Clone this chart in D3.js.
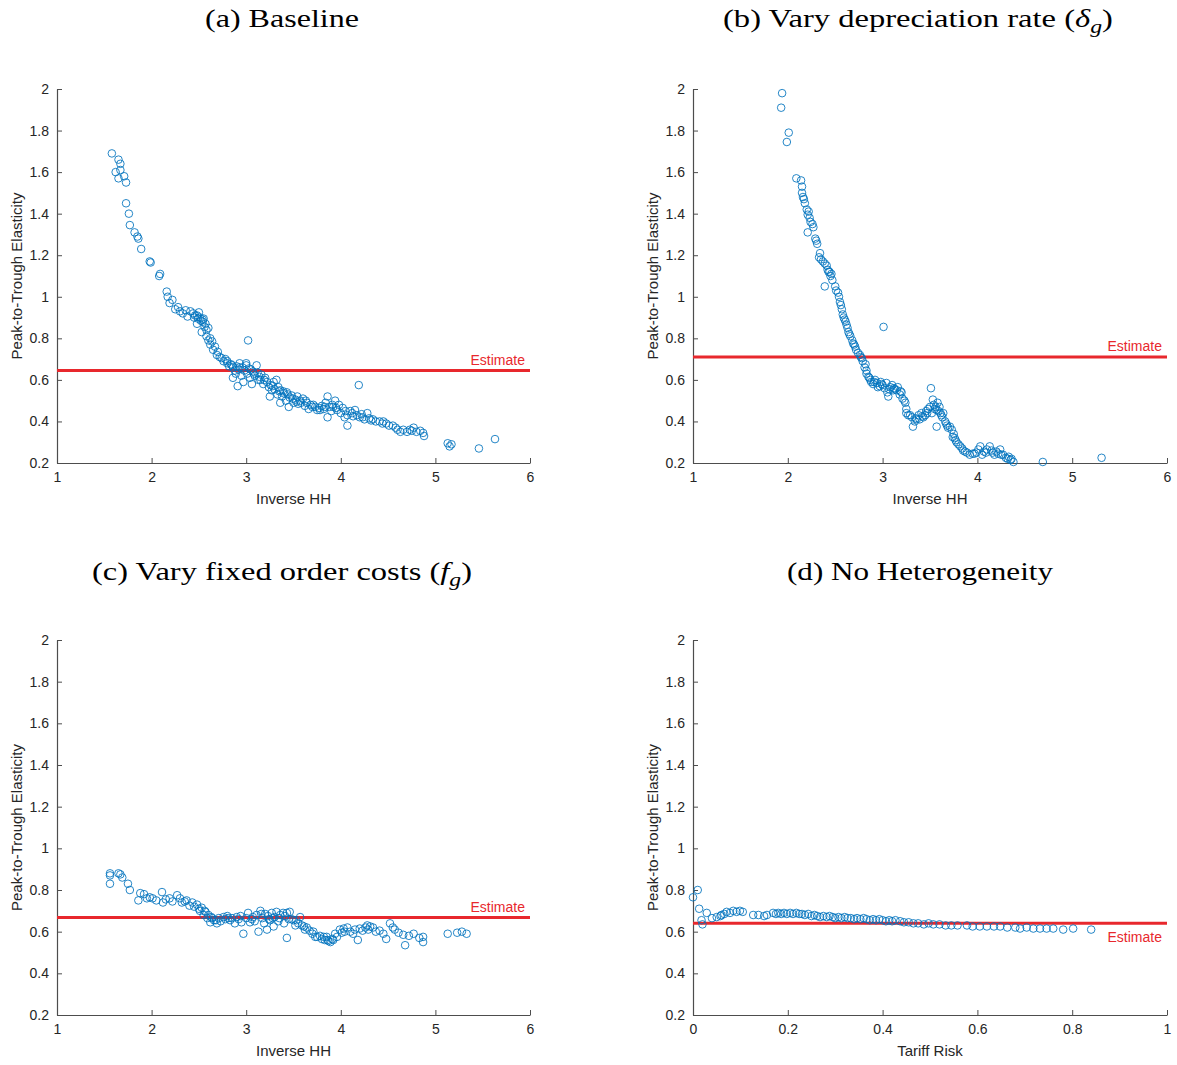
<!DOCTYPE html>
<html>
<head>
<meta charset="utf-8">
<script src="https://cdn.jsdelivr.net/npm/d3@7"></script>
<style>
  html, body { margin: 0; padding: 0; background: #fff; }
  svg { display: block; }
</style>
</head>
<body>
<svg id="chart" width="1177" height="1065"></svg>
<script>
// ---------------- DATA ----------------
const titles = ["(a) Baseline", "(b) Vary depreciation rate (", "(c) Vary fixed order costs (", "(d) No Heterogeneity"];
const yTicks = [0.2, 0.4, 0.6, 0.8, 1, 1.2, 1.4, 1.6, 1.8, 2];
const xTicksHH = [1, 2, 3, 4, 5, 6];
const xTicksRisk = [0, 0.2, 0.4, 0.6, 0.8, 1];
const yLabel = "Peak-to-Trough Elasticity";
const xLabels = ["Inverse HH", "Inverse HH", "Inverse HH", "Tariff Risk"];
const estimates = [0.645, 0.71, 0.668, 0.641];

const baselineData = [
[1.58,1.69],[1.65,1.66],[1.67,1.64],[1.62,1.60],[1.67,1.61],[1.65,1.57],[1.71,1.58],[1.73,1.55],[1.73,1.45],[1.76,1.40],
[1.77,1.345],[1.82,1.31],[1.85,1.29],[1.86,1.28],[1.89,1.23],[1.98,1.17],[1.99,1.165],[2.09,1.11],[2.08,1.10],
[2.16,1.025],[2.17,1.00],[2.19,0.97],[2.22,0.985],[2.25,0.94],[2.28,0.95],[2.30,0.93],[2.33,0.92],[2.36,0.935],[2.38,0.905],
[2.41,0.93],[2.44,0.92],[2.45,0.90],[2.48,0.91],[2.50,0.925],[2.51,0.90],[2.52,0.885],[2.54,0.88],[2.55,0.895],[2.48,0.87],
[2.56,0.855],[2.53,0.83],[2.57,0.87],[2.54,0.89],[2.58,0.81],[2.60,0.85],[2.60,0.79],[2.62,0.80],[2.62,0.77],[2.64,0.785],
[2.65,0.745],[2.67,0.76],[2.69,0.72],[2.70,0.735],[2.72,0.71],[2.74,0.705],[2.76,0.69],[2.78,0.70],[2.80,0.69],[2.80,0.68],
[2.82,0.665],[2.84,0.675],[2.85,0.67],[2.86,0.66],[2.86,0.61],[2.88,0.645],[2.89,0.63],[2.91,0.57],[2.92,0.65],[2.93,0.68],
[2.93,0.66],[2.95,0.62],[2.97,0.59],[2.98,0.645],[3.00,0.68],[3.00,0.67],[3.01,0.63],[3.02,0.79],[3.03,0.655],[3.04,0.61],
[3.06,0.58],[3.07,0.64],[3.09,0.62],[3.11,0.67],[3.12,0.635],[3.13,0.60],[3.15,0.60],[3.16,0.625],[3.18,0.58],[3.20,0.61],
[3.22,0.59],[3.24,0.565],[3.25,0.52],[3.26,0.575],[3.27,0.55],[3.29,0.59],[3.30,0.555],[3.32,0.60],[3.33,0.53],[3.35,0.545],
[3.36,0.55],[3.36,0.49],[3.38,0.52],[3.40,0.535],[3.42,0.50],[3.43,0.54],[3.45,0.47],[3.46,0.515],[3.48,0.525],[3.50,0.49],
[3.52,0.505],[3.54,0.52],[3.55,0.485],[3.57,0.50],[3.60,0.51],[3.62,0.475],[3.64,0.49],[3.66,0.46],[3.68,0.48],[3.70,0.47],
[3.73,0.47],[3.75,0.455],[3.78,0.455],[3.80,0.475],[3.82,0.46],[3.84,0.49],[3.86,0.52],[3.86,0.42],[3.88,0.47],[3.90,0.45],
[3.92,0.47],[3.94,0.50],[3.96,0.455],[3.98,0.48],[4.00,0.44],[4.02,0.465],[4.04,0.42],[4.07,0.38],[4.07,0.43],[4.10,0.45],
[4.12,0.44],[4.15,0.455],[4.17,0.43],[4.19,0.575],[4.20,0.42],[4.22,0.435],[4.25,0.41],[4.28,0.44],[4.30,0.415],[4.34,0.41],
[4.37,0.40],[4.41,0.40],[4.44,0.39],[4.48,0.39],[4.51,0.38],[4.55,0.38],[4.58,0.37],[4.63,0.35],[4.66,0.36],[4.70,0.35],
[4.73,0.36],[4.77,0.37],[4.80,0.35],[4.84,0.355],[4.87,0.345],[4.88,0.33],[5.13,0.295],[5.15,0.28],[5.17,0.29],[5.46,0.27],
[5.63,0.315],
[2.46,0.91],[2.49,0.895],[2.58,0.84],[2.90,0.665],[2.96,0.66],[3.05,0.65],[3.08,0.63],[3.14,0.615],[3.19,0.60],[3.28,0.57],
[3.34,0.565],[3.39,0.545],[3.44,0.53],[3.49,0.51],[3.53,0.495],[3.58,0.49],[3.63,0.50],[3.71,0.48],[3.77,0.465],[3.83,0.47],
[3.91,0.48],[3.95,0.465],[4.05,0.45],[4.13,0.425],[4.23,0.42],[4.32,0.405],[4.45,0.40],[4.60,0.36],[4.75,0.355]
];

const deprecData = [
[1.94,1.98],[1.93,1.91],[2.01,1.79],[1.99,1.745],[2.09,1.57],[2.14,1.56],[2.15,1.53],[2.15,1.50],[2.17,1.47],[2.18,1.45],
[2.20,1.42],[2.21,1.395],[2.23,1.38],[2.24,1.36],[2.27,1.335],[2.21,1.31],[2.29,1.28],[2.31,1.255],[2.30,1.27],[2.33,1.19],
[2.35,1.18],[2.37,1.17],[2.39,1.16],[2.41,1.15],[2.43,1.12],[2.45,1.10],[2.44,1.12],[2.39,1.05],[2.47,1.08],[2.50,1.05],
[2.51,1.03],[2.53,1.02],[2.54,1.00],[2.55,0.975],[2.56,0.96],[2.57,0.94],[2.58,0.915],[2.59,0.90],[2.61,0.88],[2.62,0.865],
[2.63,0.85],[2.64,0.83],[2.66,0.81],[2.68,0.79],[2.69,0.775],[2.71,0.76],[2.72,0.745],[2.74,0.73],[2.76,0.72],[2.78,0.705],
[2.79,0.69],[2.81,0.66],[2.82,0.675],[2.83,0.645],[2.83,0.63],[2.85,0.615],[2.87,0.60],[2.88,0.59],[2.90,0.58],[2.92,0.60],
[2.94,0.585],[2.95,0.565],[2.97,0.57],[2.98,0.59],[3.00,0.575],[3.01,0.855],[3.02,0.56],[3.04,0.585],[3.05,0.54],[3.06,0.52],
[3.08,0.565],[3.10,0.575],[3.11,0.55],[3.13,0.555],[3.15,0.55],[3.16,0.565],[3.18,0.53],[3.20,0.54],[3.21,0.51],[3.23,0.50],
[3.24,0.49],[3.25,0.46],[3.25,0.44],[3.27,0.43],[3.29,0.43],[3.31,0.42],[3.32,0.375],[3.34,0.40],[3.36,0.41],[3.38,0.43],
[3.39,0.41],[3.41,0.44],[3.43,0.42],[3.45,0.43],[3.46,0.45],[3.48,0.46],[3.50,0.47],[3.51,0.56],[3.52,0.44],[3.53,0.505],
[3.54,0.48],[3.56,0.47],[3.57,0.455],[3.57,0.375],[3.58,0.49],[3.60,0.47],[3.61,0.44],[3.63,0.42],[3.64,0.44],[3.66,0.40],
[3.67,0.39],[3.69,0.37],[3.71,0.375],[3.73,0.36],[3.74,0.325],[3.75,0.34],[3.77,0.31],[3.78,0.30],[3.80,0.29],[3.82,0.28],
[3.84,0.27],[3.87,0.255],[3.89,0.25],[3.92,0.24],[3.95,0.245],[3.99,0.25],[4.01,0.265],[4.03,0.28],[4.05,0.24],[4.07,0.255],
[4.10,0.265],[4.13,0.28],[4.15,0.26],[4.16,0.25],[4.18,0.24],[4.20,0.255],[4.24,0.265],[4.25,0.24],[4.27,0.24],[4.30,0.225],
[4.33,0.23],[4.35,0.215],[4.38,0.205],[4.36,0.22],[4.69,0.205],[5.31,0.225],
[2.16,1.48],[2.22,1.41],[2.26,1.35],[2.34,1.21],[2.42,1.13],[2.46,1.11],[2.60,0.89],[2.65,0.82],[2.70,0.77],[2.77,0.71],
[2.86,0.61],[2.91,0.59],[2.99,0.58],[3.07,0.555],[3.12,0.56],[3.19,0.545],[3.35,0.415],[3.42,0.425],[3.47,0.44],[3.55,0.46],
[3.59,0.45],[3.62,0.43],[3.68,0.38],[3.76,0.32],[3.85,0.26],[3.97,0.245],[4.09,0.25],[4.22,0.245],[4.32,0.22]
];

const fixedCostData = [
[1.56,0.87],[1.56,0.88],[1.56,0.83],[1.65,0.88],[1.69,0.86],[1.67,0.875],[1.75,0.83],[1.77,0.80],[1.86,0.75],[1.88,0.785],
[1.92,0.78],[1.95,0.76],[1.98,0.765],[2.01,0.76],[2.05,0.75],[2.11,0.79],[2.12,0.74],[2.15,0.755],[2.19,0.76],[2.22,0.745],
[2.27,0.775],[2.30,0.76],[2.32,0.74],[2.35,0.745],[2.37,0.75],[2.40,0.725],[2.43,0.74],[2.45,0.72],[2.48,0.73],[2.50,0.71],
[2.51,0.70],[2.53,0.715],[2.55,0.68],[2.57,0.695],[2.59,0.665],[2.60,0.68],[2.62,0.645],[2.64,0.665],[2.66,0.655],[2.69,0.64],
[2.71,0.665],[2.73,0.65],[2.76,0.67],[2.78,0.66],[2.80,0.675],[2.83,0.655],[2.85,0.665],[2.88,0.64],[2.90,0.67],[2.92,0.66],
[2.95,0.645],[2.97,0.59],[3.00,0.665],[3.02,0.69],[3.04,0.645],[3.07,0.67],[3.09,0.65],[3.11,0.68],[3.13,0.60],[3.15,0.70],
[3.17,0.665],[3.19,0.64],[3.20,0.685],[3.22,0.61],[3.24,0.66],[3.25,0.655],[3.27,0.69],[3.29,0.625],[3.30,0.67],[3.32,0.695],
[3.34,0.65],[3.36,0.68],[3.39,0.69],[3.40,0.64],[3.43,0.57],[3.43,0.69],[3.46,0.695],[3.48,0.66],[3.50,0.655],[3.52,0.63],
[3.55,0.64],[3.57,0.67],[3.59,0.63],[3.62,0.61],[3.64,0.62],[3.67,0.605],[3.70,0.59],[3.71,0.60],[3.73,0.575],[3.75,0.575],
[3.78,0.58],[3.80,0.565],[3.83,0.56],[3.85,0.575],[3.87,0.555],[3.89,0.55],[3.91,0.565],[3.94,0.59],[3.96,0.575],[3.99,0.61],
[4.01,0.595],[4.04,0.60],[4.07,0.62],[4.10,0.60],[4.13,0.59],[4.18,0.56],[4.20,0.615],[4.23,0.605],[4.26,0.62],[4.28,0.63],
[4.31,0.625],[4.34,0.62],[4.37,0.60],[4.41,0.605],[4.45,0.59],[4.48,0.565],[4.52,0.64],[4.55,0.62],[4.57,0.61],[4.61,0.595],
[4.66,0.585],[4.68,0.535],[4.72,0.58],[4.77,0.59],[4.83,0.57],[4.87,0.575],[4.87,0.55],[5.13,0.59],[5.23,0.595],[5.28,0.60],
[5.33,0.59],
[2.56,0.70],[2.63,0.67],[2.68,0.655],[2.81,0.665],[2.94,0.675],[3.06,0.66],[3.16,0.685],[3.23,0.675],[3.28,0.665],[3.35,0.665],
[3.41,0.675],[3.45,0.66],[3.53,0.655],[3.61,0.625],[3.82,0.575],[3.86,0.56],[3.92,0.56],[4.03,0.615],[4.15,0.61],[4.29,0.61]
];

const noHetData = [
[0.000,0.765],[0.010,0.80],[0.013,0.71],[0.018,0.655],[0.020,0.635],[0.029,0.69],[0.040,0.665],[0.050,0.67],[0.058,0.675],[0.060,0.68],
[0.066,0.685],[0.071,0.695],[0.078,0.69],[0.085,0.70],[0.092,0.695],[0.099,0.70],[0.105,0.695],[0.127,0.68],[0.138,0.68],[0.150,0.675],
[0.156,0.68],[0.169,0.69],[0.175,0.685],[0.180,0.69],[0.186,0.685],[0.192,0.69],[0.198,0.685],[0.205,0.69],[0.211,0.685],[0.218,0.69],
[0.224,0.685],[0.230,0.685],[0.236,0.68],[0.243,0.685],[0.250,0.675],[0.256,0.68],[0.262,0.675],[0.268,0.67],[0.275,0.675],[0.282,0.67],
[0.288,0.675],[0.295,0.67],[0.300,0.665],[0.307,0.67],[0.313,0.665],[0.320,0.67],[0.326,0.665],[0.333,0.665],[0.340,0.66],[0.346,0.665],
[0.353,0.66],[0.360,0.665],[0.366,0.66],[0.373,0.655],[0.380,0.66],[0.386,0.655],[0.393,0.66],[0.400,0.655],[0.407,0.65],[0.414,0.655],
[0.420,0.65],[0.427,0.655],[0.437,0.65],[0.445,0.645],[0.455,0.645],[0.465,0.64],[0.475,0.64],[0.487,0.635],[0.497,0.64],[0.507,0.635],
[0.520,0.635],[0.533,0.63],[0.545,0.63],[0.558,0.63],[0.578,0.63],[0.590,0.625],[0.605,0.625],[0.620,0.625],[0.635,0.625],[0.648,0.625],
[0.663,0.62],[0.680,0.62],[0.690,0.615],[0.704,0.62],[0.718,0.615],[0.732,0.615],[0.746,0.615],[0.760,0.615],[0.781,0.61],[0.802,0.615],
[0.840,0.61]
];

// ---------------- DRAW ----------------
const svg = d3.select("#chart");
const AXIS = "#4d4d4d", TXT = "#262626", BLUE = "#0072BD", RED = "#e8282d";

const panels = [
  {data: baselineData, x0: 57, x1: 530, yTop: 89, yBot: 463, xd: [1, 6], xt: xTicksHH, est: estimates[0], lab: xLabels[0], estPos: "above", title: [titles[0]], tx: 282, ty: 27, tw: 154},
  {data: deprecData, x0: 693, x1: 1167, yTop: 89, yBot: 463, xd: [1, 6], xt: xTicksHH, est: estimates[1], lab: xLabels[1], estPos: "above", title: [titles[1], "δ", "g", ")"], tx: 918, ty: 27, tw: 390},
  {data: fixedCostData, x0: 57, x1: 530, yTop: 640, yBot: 1015, xd: [1, 6], xt: xTicksHH, est: estimates[2], lab: xLabels[2], estPos: "above", title: [titles[2], "f", "g", ")"], tx: 282, ty: 580, tw: 380},
  {data: noHetData, x0: 693, x1: 1167, yTop: 640, yBot: 1015, xd: [0, 1], xt: xTicksRisk, est: estimates[3], lab: xLabels[3], estPos: "below", title: [titles[3]], tx: 920, ty: 580, tw: 266}
];

panels.forEach(p => {
  const x = d3.scaleLinear().domain(p.xd).range([p.x0, p.x1]);
  const y = d3.scaleLinear().domain([0.2, 2]).range([p.yBot, p.yTop]);
  const g = svg.append("g");

  // axes
  const xAxis = d3.axisBottom(x).tickValues(p.xt).tickSizeInner(-5).tickSizeOuter(0).tickPadding(9)
    .tickFormat(d => d3.format("~g")(d));
  const yAxis = d3.axisLeft(y).tickValues(yTicks).tickSizeInner(-5).tickSizeOuter(0).tickPadding(8)
    .tickFormat(d => d3.format("~g")(d));

  const gx = g.append("g").attr("transform", `translate(0,${p.yBot})`).call(xAxis);
  const gy = g.append("g").attr("transform", `translate(${p.x0},0)`).call(yAxis);
  [gx, gy].forEach(a => {
    a.select(".domain").attr("stroke", AXIS).attr("stroke-width", 1.2);
    a.selectAll(".tick line").attr("stroke", AXIS).attr("stroke-width", 1);
    a.selectAll(".tick text").attr("fill", TXT).style("font-family", "Liberation Sans, Arial, sans-serif").style("font-size", "14px");
  });

  // estimate line
  g.append("line")
    .attr("x1", x(p.xd[0])).attr("x2", x(p.xd[1]))
    .attr("y1", y(p.est)).attr("y2", y(p.est))
    .attr("stroke", RED).attr("stroke-width", 3);
  g.append("text")
    .attr("x", x(p.xd[1]) - 5)
    .attr("y", p.estPos === "above" ? y(p.est) - 6 : y(p.est) + 19)
    .attr("text-anchor", "end")
    .attr("fill", RED)
    .style("font-family", "Liberation Sans, Arial, sans-serif").style("font-size", "14px")
    .text("Estimate");

  // scatter
  g.append("g").selectAll("circle").data(p.data).join("circle")
    .attr("cx", d => x(d[0])).attr("cy", d => y(d[1])).attr("r", 3.8)
    .attr("fill", "none").attr("stroke", BLUE).attr("stroke-width", 1).attr("stroke-opacity", 0.85);

  // axis labels
  g.append("text")
    .attr("x", (p.x0 + p.x1) / 2).attr("y", p.yBot + 41)
    .attr("text-anchor", "middle").attr("fill", TXT)
    .style("font-family", "Liberation Sans, Arial, sans-serif").style("font-size", "15px")
    .text(p.lab);
  g.append("text")
    .attr("transform", `translate(${p.x0 - 35},${(p.yTop + p.yBot) / 2}) rotate(-90)`)
    .attr("text-anchor", "middle").attr("fill", TXT)
    .style("font-family", "Liberation Sans, Arial, sans-serif").style("font-size", "15px")
    .text(yLabel);

  // title
  const t = svg.append("text")
    .attr("x", p.tx).attr("y", p.ty)
    .attr("text-anchor", "middle").attr("fill", "#000")
    .attr("textLength", p.tw).attr("lengthAdjust", "spacingAndGlyphs")
    .style("font-family", "Liberation Serif, 'DejaVu Serif', serif").style("font-size", "26px");
  t.append("tspan").text(p.title[0]);
  if (p.title.length > 1) {
    t.append("tspan").style("font-style", "italic").text(p.title[1]);
    t.append("tspan").style("font-style", "italic").style("font-size", "19px").attr("dy", 6).text(p.title[2]);
    t.append("tspan").attr("dy", -6).text(p.title[3]);
  }
});
</script>
</body>
</html>
